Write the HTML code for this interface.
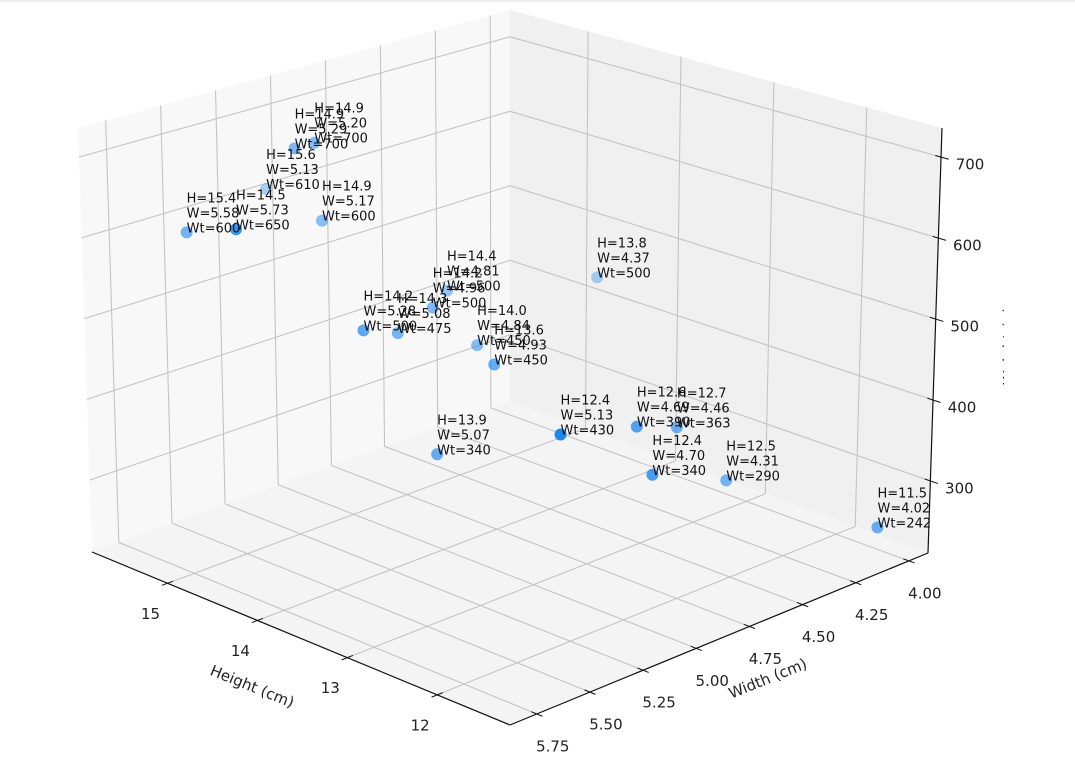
<!DOCTYPE html>
<html><head><meta charset="utf-8"><style>
html,body{margin:0;padding:0;background:#fff;}
svg{display:block;font-family:"DejaVu Sans","Liberation Sans",sans-serif;}
</style></head><body>
<svg id="chart" width="1075" height="765" viewBox="0 0 1075 765" xmlns="http://www.w3.org/2000/svg">
<line x1="0" y1="1" x2="1075" y2="1" stroke="#eee" stroke-width="2"/>
<g id="panes"></g>
<g id="grid"></g>
<g id="axes"></g>
<g id="points"></g>
<g id="labels"></g>
<defs><clipPath id="zclip"><rect x="0" y="0" width="1004" height="765"/></clipPath></defs>
<g clip-path="url(#zclip)">
<text x="1014" y="346" transform="rotate(-90 1014 346)" text-anchor="middle" font-size="15" fill="#222">Weight (g)</text>
</g>
</svg>
<script>
const heights = [14.9, 14.9, 15.6, 14.5, 15.4, 14.9, 14.4, 14.2, 14.2, 14.3, 14.0, 13.6, 13.8, 13.9, 12.4, 12.6, 12.7, 12.4, 12.5, 11.5];
const widths  = [5.20, 5.29, 5.13, 5.73, 5.58, 5.17, 4.81, 4.96, 5.28, 5.08, 4.84, 4.93, 4.37, 5.07, 5.13, 4.69, 4.46, 4.70, 4.31, 4.02];
const weights = [700, 700, 610, 650, 600, 600, 500, 500, 500, 475, 450, 450, 500, 340, 430, 390, 363, 340, 290, 242];
const heightTicks = [15, 14, 13, 12];
const widthTicks = [5.75, 5.50, 5.25, 5.00, 4.75, 4.50, 4.25, 4.00];
const weightTicks = [700, 600, 500, 400, 300];
const heightLim = [11.19, 15.84];
const widthLim = [3.91, 5.876];
const weightLim = [211, 736];

const FL = {F:[510,725],R:[928,553],B:[510,401],L:[92,552]};
const TP = {F:[510,266],R:[942,128],B:[510,10],L:[78,128]};
function bil(Q,u,v){
  const wR=(1-u)*(1-v), wF=(1-u)*v, wB=u*(1-v), wL=u*v;
  return [wR*Q.R[0]+wF*Q.F[0]+wB*Q.B[0]+wL*Q.L[0], wR*Q.R[1]+wF*Q.F[1]+wB*Q.B[1]+wL*Q.L[1]];
}
function P(h,w,t){
  const u=(h-heightLim[0])/(heightLim[1]-heightLim[0]);
  const v=(w-widthLim[0])/(widthLim[1]-widthLim[0]);
  const s=(t-weightLim[0])/(weightLim[1]-weightLim[0]);
  const a=bil(FL,u,v), b=bil(TP,u,v);
  return [a[0]+(b[0]-a[0])*s, a[1]+(b[1]-a[1])*s];
}
const NS="http://www.w3.org/2000/svg";
function mk(tag,attrs,parent){const e=document.createElementNS(NS,tag);for(const k in attrs)e.setAttribute(k,attrs[k]);parent.appendChild(e);return e;}
const [h0,h1]=heightLim,[w0,w1]=widthLim,[t0,t1]=weightLim;
const panes=document.getElementById('panes');
function poly(pts,fill,name){const e=mk('polygon',{points:pts.map(p=>p.join(',')).join(' '),fill:fill},panes);

}
poly([P(h1,w0,t0),P(h1,w1,t0),P(h1,w1,t1),P(h1,w0,t1)],'#f8f8f8','left-wall-pane');
poly([P(h0,w0,t0),P(h1,w0,t0),P(h1,w0,t1),P(h0,w0,t1)],'#f0f0f0','right-wall-pane');
poly([P(h0,w0,t0),P(h0,w1,t0),P(h1,w1,t0),P(h1,w0,t0)],'#f4f4f4','floor-pane');
const grid=document.getElementById('grid');
function gl(a,b,name){const e=mk('line',{x1:a[0],y1:a[1],x2:b[0],y2:b[1],stroke:'#c4c4c4','stroke-width':1.1},grid);

}
heightTicks.forEach(h=>{gl(P(h,w0,t0),P(h,w1,t0),'floor-grid-height');gl(P(h,w0,t0),P(h,w0,t1),'wall-grid-height');});
widthTicks.forEach(w=>{gl(P(h0,w,t0),P(h1,w,t0),'floor-grid-width');gl(P(h1,w,t0),P(h1,w,t1),'wall-grid-width');});
weightTicks.forEach(t=>{gl(P(h1,w0,t),P(h1,w1,t),'left-wall-grid-weight');gl(P(h0,w0,t),P(h1,w0,t),'right-wall-grid-weight');});
const axes=document.getElementById('axes');
function al(a,b,name,sw){const e=mk('line',{x1:a[0],y1:a[1],x2:b[0],y2:b[1],stroke:'#111','stroke-width':sw},axes);

}
function tx(x,y,s,size,name,rot){const e=mk('text',{x:x,y:y,'font-size':size,fill:'#222','text-anchor':'middle','dominant-baseline':'middle'},axes);
if(rot)e.setAttribute('transform','rotate('+rot+' '+x+' '+y+')');
e.textContent=s;

}
function unit(a,b){const dx=b[0]-a[0],dy=b[1]-a[1],l=Math.hypot(dx,dy);return [dx/l,dy/l];}
al(P(h0,w1,t0),P(h1,w1,t0),'height-axis-line',1.2);
al(P(h0,w1,t0),P(h0,w0,t0),'width-axis-line',1.2);
al(P(h0,w0,t0),P(h0,w0,t1),'weight-axis-line',1.2);
heightTicks.forEach(h=>{const p=P(h,w1,t0),d=unit(P(h,w0,t0),p);
al([p[0]-d[0]*6,p[1]-d[1]*6],[p[0]+d[0]*6,p[1]+d[1]*6],'height-tick',1);
tx(p[0]-17,p[1]+31,String(h),15,'height-tick-label');});
widthTicks.forEach(w=>{const p=P(h0,w,t0),d=unit(P(h1,w,t0),p);
al([p[0]-d[0]*6,p[1]-d[1]*6],[p[0]+d[0]*6,p[1]+d[1]*6],'width-tick',1);
tx(p[0]+16,p[1]+33,w.toFixed(2),15,'width-tick-label');});
weightTicks.forEach(t=>{const p=P(h0,w0,t),d=unit(P(h1,w0,t),p);
al([p[0]-d[0]*6,p[1]-d[1]*6],[p[0]+d[0]*8,p[1]+d[1]*8],'weight-tick',1);
tx(p[0]+29,p[1]+8,String(t),15,'weight-tick-label');});
tx(252,687,'Height (cm)',15,'x-axis-title',22);
tx(768,679,'Width (cm)',15,'y-axis-title',-22);
const pts=document.getElementById('points'),lab=document.getElementById('labels');
heights.forEach((h,i)=>{
  const w=widths[i],t=weights[i],p=P(h,w,t);
  const u=(h-h0)/(h1-h0),v=(w-w0)/(w1-w0),c=(1-u)+v;
  const a=Math.max(0.3,Math.min(1,0.3+(c-0.6)/0.75*0.7));
  const e=mk('circle',{cx:p[0],cy:p[1],r:6,fill:'#1e88f0','fill-opacity':a},pts);
  
  
  const T=mk('text',{x:p[0],y:p[1],'font-size':13,fill:'#111'},lab);
  
  
  const lines=['H='+h.toFixed(1),'W='+w.toFixed(2),'Wt='+t];
  lines.forEach((s,k)=>{const ts=mk('tspan',{x:p[0],y:p[1]-(2-k)*15},T);ts.textContent=s;});
});
</script>
</body></html>
